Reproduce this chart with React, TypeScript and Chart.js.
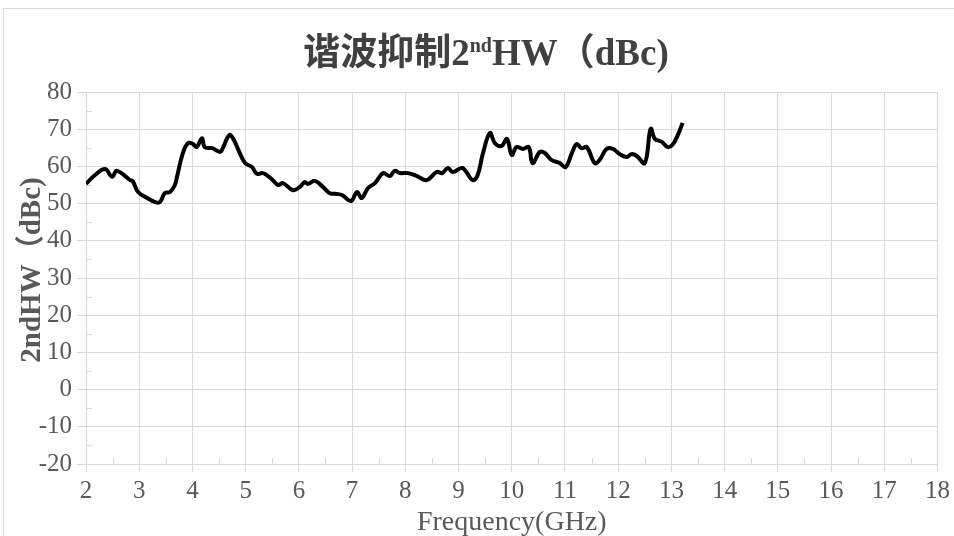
import React, { useEffect, useRef } from "react";
import { Chart, registerables } from "chart.js";

Chart.register(...registerables);

const freqGHz = [
  2.0, 2.17, 2.36, 2.49, 2.58, 2.83, 2.88, 2.98, 3.15, 3.3, 3.39, 3.48, 3.58, 3.67, 3.71, 3.82, 3.92,
  4.01, 4.08, 4.18, 4.23, 4.37, 4.52, 4.57, 4.69, 4.76, 4.89, 4.99, 5.12, 5.21, 5.32, 5.42, 5.51,
  5.61, 5.7, 5.89, 6.02, 6.11, 6.17, 6.3, 6.45, 6.58, 6.71, 6.81, 6.98, 7.09, 7.18, 7.3, 7.43,
  7.58, 7.71, 7.8, 7.9, 8.05, 8.22, 8.4, 8.59, 8.69, 8.8, 8.89, 9.06, 9.12, 9.27, 9.36, 9.46,
  9.59, 9.68, 9.81, 9.91, 10.0, 10.09, 10.21, 10.32, 10.39, 10.53, 10.62, 10.75, 10.9, 11.01,
  11.13, 11.22, 11.31, 11.41, 11.56, 11.65, 11.78, 11.9, 12.03, 12.16, 12.25, 12.35, 12.5,
  12.61, 12.69, 12.82, 12.93, 13.02, 13.12, 13.21,
];

const hw2dBc = [
  55.3, 57.7, 59.3, 57.2, 58.8, 56.3, 56.0, 53.1, 51.5, 50.4, 50.4, 52.8, 53.1, 55.0, 57.2, 63.6, 66.3,
  66.0, 65.2, 67.6, 65.2, 64.9, 63.9, 64.9, 68.4, 67.6, 63.6, 60.9, 59.8, 58.0, 58.2, 57.4, 56.3,
  55.0, 55.5, 53.6, 54.5, 55.8, 55.3, 56.1, 54.5, 52.8, 52.6, 52.3, 50.7, 53.1, 51.5, 54.2, 55.5,
  58.2, 57.4, 58.8, 58.2, 58.2, 57.4, 56.3, 58.5, 58.2, 59.6, 58.5, 59.6, 59.0, 56.3, 57.7, 63.6,
  69.0, 66.3, 65.5, 67.4, 63.1, 65.2, 64.7, 65.2, 60.9, 63.9, 63.6, 61.7, 60.9, 59.8,
  63.6, 66.0, 64.9, 65.2, 60.9, 61.7, 64.7, 64.7, 63.3, 62.5, 63.3, 62.8, 60.9,
  70.1, 67.4, 66.6, 65.2, 65.8, 68.4, 71.7,
];

const xMin = 2;
const xMax = 18;
const yMin = -20;
const yMax = 80;
const titleMain = "谐波抑制2";
const titleSup = "nd";
const titleRest = "HW（dBc)";
const yTitle = "2ndHW（dBc)";
const xTitle = "Frequency(GHz)";

const SERIF = "'Liberation Serif', 'Times New Roman', 'Noto Sans CJK SC', serif";
const GRID = "#d9d9d9";
const TEXT = "#595959";

const decorPlugin = {
  id: "decor",
  afterDraw(chart: any) {
    const ctx = chart.ctx as CanvasRenderingContext2D;
    const xs = chart.scales.x;
    const ys = chart.scales.y;
    ctx.save();
    // minor ticks
    ctx.strokeStyle = GRID;
    ctx.lineWidth = 1;
    for (let v = yMin + 5; v < yMax; v += 10) {
      const py = Math.round(ys.getPixelForValue(v)) + 0.5;
      ctx.beginPath();
      ctx.moveTo(xs.left, py);
      ctx.lineTo(xs.left + 6, py);
      ctx.stroke();
    }
    for (let v = xMin + 0.5; v < xMax; v += 1) {
      const px = Math.round(xs.getPixelForValue(v)) + 0.5;
      ctx.beginPath();
      ctx.moveTo(px, ys.bottom);
      ctx.lineTo(px, ys.bottom - 6);
      ctx.stroke();
    }
    // title
    ctx.fillStyle = "#404040";
    ctx.textBaseline = "alphabetic";
    ctx.textAlign = "left";
    const big = `bold 37px ${SERIF}`;
    const small = `bold 20px ${SERIF}`;
    ctx.font = big;
    const w1 = ctx.measureText(titleMain).width;
    const w3 = ctx.measureText(titleRest).width;
    ctx.font = small;
    const w2 = ctx.measureText(titleSup).width;
    const total = w1 + w2 + w3;
    let tx = 486 - total / 2;
    const ty = 65;
    ctx.font = big;
    ctx.fillText(titleMain, tx, ty);
    tx += w1;
    ctx.font = small;
    ctx.fillText(titleSup, tx, ty - 13);
    tx += w2;
    ctx.font = big;
    ctx.fillText(titleRest, tx, ty);
    // x title
    ctx.fillStyle = TEXT;
    ctx.textAlign = "center";
    ctx.font = `28px ${SERIF}`;
    ctx.fillText(xTitle, (xs.left + xs.right) / 2, 530);
    // y title
    ctx.translate(40, 270);
    ctx.rotate(-Math.PI / 2);
    ctx.font = `bold 29px ${SERIF}`;
    ctx.fillText(yTitle, 0, 0);
    ctx.restore();
  },
};

export default function App() {
  const ref = useRef<HTMLCanvasElement | null>(null);
  useEffect(() => {
    document.body.style.margin = "0";
    const canvas = ref.current;
    if (!canvas) return;
    const chart = new Chart(canvas, {
      type: "line",
      data: {
        datasets: [
          {
            data: freqGHz.map((f, i) => ({ x: f, y: hw2dBc[i] })),
            borderColor: "#000000",
            borderWidth: 4,
            pointRadius: 0,
            tension: 0.4,
            fill: false,
          },
        ],
      },
      options: {
        animation: false,
        responsive: false,
        maintainAspectRatio: false,
        layout: { padding: { top: 92, right: 16, left: 0, bottom: 0 } },
        plugins: { legend: { display: false }, title: { display: false }, tooltip: { enabled: false } },
        scales: {
          x: {
            type: "linear",
            min: xMin,
            max: xMax,
            ticks: { stepSize: 1, color: TEXT, font: { family: SERIF, size: 25 }, padding: 4, maxRotation: 0 },
            grid: { color: GRID, tickLength: 8, tickColor: GRID },
            border: { color: GRID },
            afterFit: (s: any) => {
              s.height = 72;
            },
          },
          y: {
            min: yMin,
            max: yMax,
            ticks: { stepSize: 10, color: TEXT, font: { family: SERIF, size: 25 }, padding: 5 },
            grid: { color: GRID, tickLength: 9, tickColor: GRID },
            border: { color: GRID },
            afterFit: (s: any) => {
              s.width = 86;
            },
          },
        },
      },
      plugins: [decorPlugin],
    } as any);
    return () => chart.destroy();
  }, []);
  return (
    <div style={{ position: "relative", width: 954, height: 536, overflow: "hidden", background: "#fff" }}>
      <div
        style={{
          position: "absolute",
          left: 3,
          top: 8,
          width: 1100,
          height: 1100,
          border: `1px solid ${GRID}`,
          boxSizing: "border-box",
        }}
      />
      <canvas ref={ref} width={954} height={536} style={{ position: "absolute", left: 0, top: 0, width: 954, height: 536 }} />
    </div>
  );
}
